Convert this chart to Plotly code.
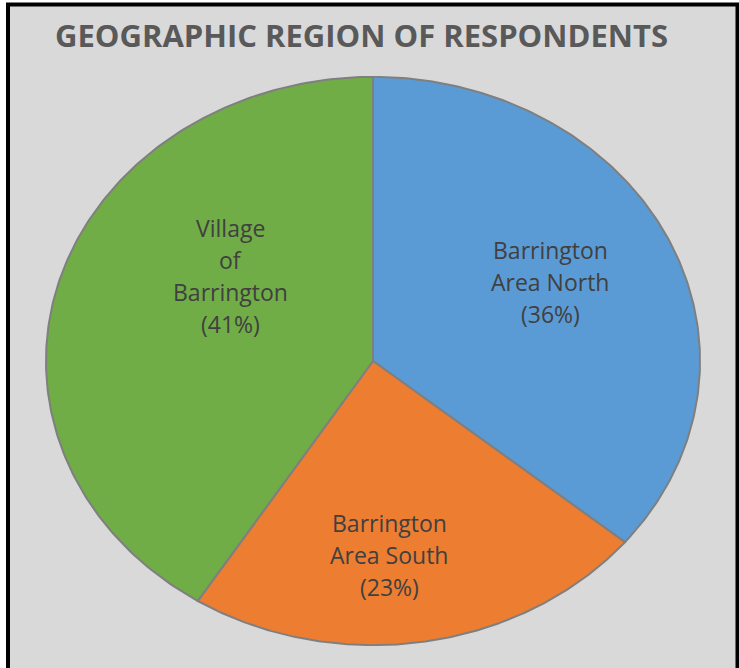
import numpy as np
import plotly.graph_objects as go

title_text = "GEOGRAPHIC REGION OF RESPONDENTS"
categories = ["Barrington Area North", "Barrington Area South", "Village of Barrington"]
shares = [36, 23, 41]
label_lines = [
    ["Barrington", "Area North", "(36%)"],
    ["Barrington", "Area South", "(23%)"],
    ["Village", "of", "Barrington", "(41%)"],
]
colors = ["#5b9bd5", "#ed7d31", "#70ad47"]

W, H = 739, 668
# plot area = bounding box of the (stretched) pie
L, R, T, B = 45, 38, 76, 22
pw, ph = W - L - R, H - T - B

fig = go.Figure()

total = float(sum(shares))
start = 0.0
for cat, val, col in zip(categories, shares, colors):
    frac = val / total
    a0, a1 = start * 2 * np.pi, (start + frac) * 2 * np.pi
    th = np.linspace(a0, a1, 200)
    xs = np.concatenate([[0], np.sin(th), [0]])
    ys = np.concatenate([[0], np.cos(th), [0]])
    fig.add_trace(go.Scatter(
        x=xs, y=ys, mode="lines", fill="toself", fillcolor=col,
        line=dict(color="#7f7f7f", width=2), name=cat, hoverinfo="name",
        showlegend=False,
    ))
    start += frac

# label centres (pixel positions in the picture)
label_centres = [(550, 282), (389, 555), (231, 276)]
line_gap = 32
for lines, (cx, cy) in zip(label_lines, label_centres):
    n = len(lines)
    for i, txt in enumerate(lines):
        py = cy + (i - (n - 1) / 2) * line_gap
        fig.add_annotation(
            x=(cx - L) / pw, y=(H - B - py) / ph, xref="paper", yref="paper",
            text=txt, showarrow=False, xanchor="center", yanchor="middle",
            font=dict(family="Open Sans, sans-serif", size=23, color="#404040"),
        )

fig.add_annotation(
    x=(53 - L) / pw, y=(H - B - 35) / ph, xref="paper", yref="paper",
    text="<b>" + title_text + "</b>", showarrow=False, xanchor="left", yanchor="middle",
    font=dict(family="Open Sans, sans-serif", size=31, color="#595959"),
)

# frame: grey panel with black border
fig.add_shape(
    type="rect", xref="paper", yref="paper", layer="below",
    x0=(8 - L) / pw, x1=(737.5 - L) / pw,
    y0=(H - B - 672) / ph, y1=(H - B - 4.5) / ph,
    fillcolor="#d9d9d9", line=dict(color="black", width=4),
)

fig.update_layout(
    width=W, height=H,
    margin=dict(l=L, r=R, t=T, b=B),
    paper_bgcolor="white", plot_bgcolor="rgba(0,0,0,0)",
    xaxis=dict(range=[-1.003, 1.003], visible=False, fixedrange=True),
    yaxis=dict(range=[-1.003, 1.003], visible=False, fixedrange=True),
    showlegend=False,
)

fig.write_html(
    "out.html",
    config={"displayModeBar": False},
    post_script="document.body.style.margin='0';document.body.style.overflow='hidden';",
)
